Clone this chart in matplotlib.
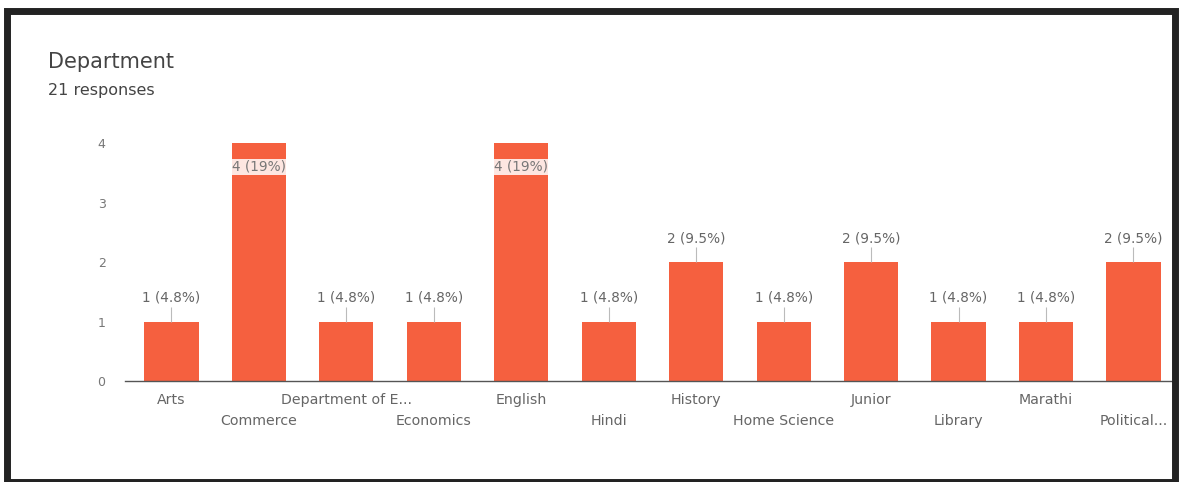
import matplotlib.pyplot as plt
from matplotlib.patches import Rectangle

departments = ['Arts', 'Commerce', 'Department of E...', 'Economics', 'English', 'Hindi',
               'History', 'Home Science', 'Junior', 'Library', 'Marathi', 'Political...']
counts = [1, 4, 1, 1, 4, 1, 2, 1, 2, 1, 1, 2]
pct_labels = ['1 (4.8%)', '4 (19%)', '1 (4.8%)', '1 (4.8%)', '4 (19%)', '1 (4.8%)',
              '2 (9.5%)', '1 (4.8%)', '2 (9.5%)', '1 (4.8%)', '1 (4.8%)', '2 (9.5%)']
total = 21

plt.rcParams['font.family'] = ['DejaVu Sans']
fig = plt.figure(figsize=(11.82, 4.82), dpi=100, facecolor='white')

# scanned page border
fig.patches.append(Rectangle((0.006, 0.0), 0.988, 0.978, transform=fig.transFigure,
                             fill=False, edgecolor='#222222', linewidth=5))

ax = fig.add_axes([0.1058, 0.2095, 0.8857, 0.4935])
x = list(range(len(departments)))
ax.bar(x, counts, width=0.62, color='#f5603f')

ax.set_xlim(-0.53, 11.44)
ax.set_ylim(0, 4)
ax.set_yticks([0, 1, 2, 3, 4])
ax.tick_params(axis='y', length=0, pad=14, labelsize=9, labelcolor='#777777')
ax.set_xticks([])
for s in ['top', 'right', 'left']:
    ax.spines[s].set_visible(False)
ax.spines['bottom'].set_color('#555555')
ax.spines['bottom'].set_linewidth(1)

# category labels in two staggered rows
for i, name in enumerate(departments):
    ypos = -0.32 if i % 2 == 0 else -0.68
    ax.text(i, ypos, name, ha='center', va='center', fontsize=10.2, color='#666666')

# value labels
for i, (c, lab) in enumerate(zip(counts, pct_labels)):
    if c >= 4:
        ax.text(i, c - 0.4, lab, ha='center', va='center', fontsize=9.8, color='#777777',
                bbox=dict(boxstyle='square,pad=0.1', fc='white', ec='none', alpha=0.85))
    else:
        ax.vlines(i, c, c + 0.25, color='#bbbbbb', linewidth=0.8)
        ax.text(i, c + 0.4, lab, ha='center', va='center', fontsize=9.8, color='#666666')

fig.text(0.0406, 0.872, 'Department', fontsize=15, color='#444444', va='center')
fig.text(0.0406, 0.813, f'{total} responses', fontsize=11.5, color='#444444', va='center')

fig.savefig('out.png', dpi=100)
